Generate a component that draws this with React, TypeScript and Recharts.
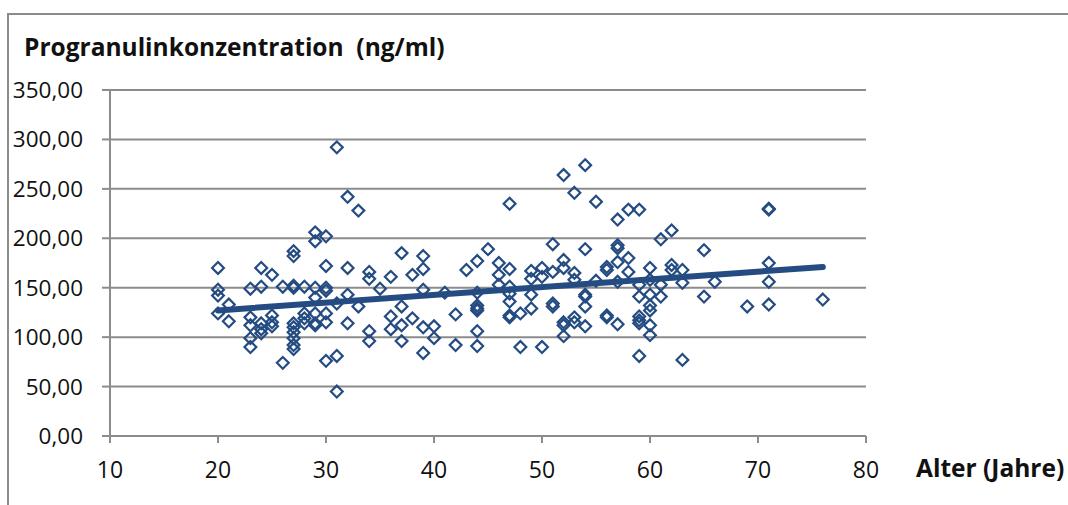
import React from 'react';
import { ScatterChart, Scatter, XAxis, YAxis, CartesianGrid } from 'recharts';

const ages = [20, 21, 23, 24, 25, 26, 27, 28, 29, 30, 31, 32, 33, 34, 35, 36, 37, 38, 39, 40, 41, 42, 43, 44, 45, 46, 47, 48, 49, 50, 51, 52, 53, 54, 55, 56, 57, 58, 59, 60, 61, 62, 63, 65, 66, 69, 71, 76];
const valuesByAge = [
  [170, 148, 142, 124],
  [133, 116],
  [149, 120, 112, 99, 90],
  [170, 151, 114, 108, 104],
  [163, 122, 115, 111],
  [151, 74],
  [187, 182, 152, 150, 114, 110, 105, 99, 92, 88],
  [151, 124, 119, 114],
  [206, 197, 150, 140, 124, 114, 112],
  [202, 172, 150, 147, 124, 115, 76],
  [292, 134, 81, 45],
  [242, 170, 143, 114],
  [228, 131],
  [166, 159, 106, 96],
  [149],
  [161, 121, 108],
  [185, 131, 112, 96],
  [163, 119],
  [182, 169, 148, 110, 84],
  [111, 99],
  [145],
  [123, 92],
  [168],
  [177, 145, 132, 129, 127, 106, 91],
  [189],
  [175, 163, 153],
  [235, 169, 151, 144, 136, 122, 120],
  [124, 90],
  [167, 159, 143, 129],
  [170, 161, 90],
  [194, 166, 134, 131],
  [264, 178, 170, 115, 112, 101],
  [246, 165, 158, 120, 115],
  [274, 189, 143, 141, 131, 111],
  [237, 157],
  [171, 168, 122, 120],
  [219, 193, 190, 176, 156, 113],
  [229, 180, 166],
  [229, 153, 141, 121, 117, 114, 81],
  [170, 158, 143, 132, 127, 112, 102],
  [199, 153, 141],
  [208, 173, 168],
  [168, 155, 77],
  [188, 141],
  [156],
  [131],
  [230, 229, 175, 156, 133],
  [138],
];
const trendAges = [20, 76];
const trendValues = [127, 171];
const xTicks = [10, 20, 30, 40, 50, 60, 70, 80];
const yTicks = [0, 50, 100, 150, 200, 250, 300, 350];

const points = ages.flatMap((a, i) => valuesByAge[i].map((v) => ({ x: a, y: v })));
const trend = trendAges.map((a, i) => ({ x: a, y: trendValues[i] }));

const BLUE = '#244c82';
const GRID = '#8c8c8c';
const FONT = '"Open Sans", sans-serif';

const Diamond = (props: any) => {
  const { cx, cy } = props;
  const r = 5.9;
  return (
    <path
      d={`M${cx},${cy - r}L${cx + r},${cy}L${cx},${cy + r}L${cx - r},${cy}Z`}
      fill="none"
      stroke={BLUE}
      strokeWidth={2.2}
    />
  );
};

const NoShape = () => null;

const fmt = (v: number) => v.toFixed(2).replace('.', ',');

export default function App() {
  return (
    <div style={{ position: 'absolute', left: 0, top: 0, width: 1068, height: 505, overflow: 'hidden' }}>
      <div
        style={{
          position: 'absolute',
          left: 7,
          top: 13,
          width: 1061,
          height: 492,
          borderTop: `2px solid ${GRID}`,
          borderLeft: `2px solid ${GRID}`,
          boxSizing: 'border-box',
        }}
      />
      <div style={{ position: 'absolute', left: 0, top: 0 }}>
        <ScatterChart width={1068} height={505} margin={{ top: 90, right: 202, bottom: 0, left: 0 }}>
          <CartesianGrid horizontal vertical={false} stroke={GRID} strokeWidth={2} />
          <XAxis
            type="number"
            dataKey="x"
            domain={[10, 80]}
            ticks={xTicks}
            allowDataOverflow
            height={69}
            stroke={GRID}
            strokeWidth={2}
            tickSize={7}
            tickMargin={19}
            tick={{ fill: '#111', fontSize: 23, fontFamily: FONT }}
          />
          <YAxis
            type="number"
            dataKey="y"
            domain={[0, 350]}
            ticks={yTicks}
            allowDataOverflow
            width={110}
            stroke={GRID}
            strokeWidth={2}
            tickSize={8}
            tickMargin={19}
            tickFormatter={fmt}
            tick={{ fill: '#111', fontSize: 22.5, fontFamily: FONT }}
          />
          <Scatter data={points} shape={Diamond} isAnimationActive={false} />
          <Scatter
            data={trend}
            line={{ stroke: BLUE, strokeWidth: 6, strokeLinecap: 'round' } as any}
            shape={NoShape}
            isAnimationActive={false}
          />
        </ScatterChart>
      </div>
      <div
        style={{
          position: 'absolute',
          left: 24,
          top: 30,
          lineHeight: '34px',
          fontFamily: FONT,
          fontWeight: 700,
          fontSize: 24.5,
          color: '#111',
          whiteSpace: 'pre',
        }}
      >
        {'Progranulinkonzentration  (ng/ml)'}
      </div>
      <div
        style={{
          position: 'absolute',
          left: 916,
          top: 451,
          lineHeight: '34px',
          fontFamily: FONT,
          fontWeight: 700,
          fontSize: 24.5,
          color: '#111',
          whiteSpace: 'pre',
        }}
      >
        Alter (Jahre)
      </div>
    </div>
  );
}
